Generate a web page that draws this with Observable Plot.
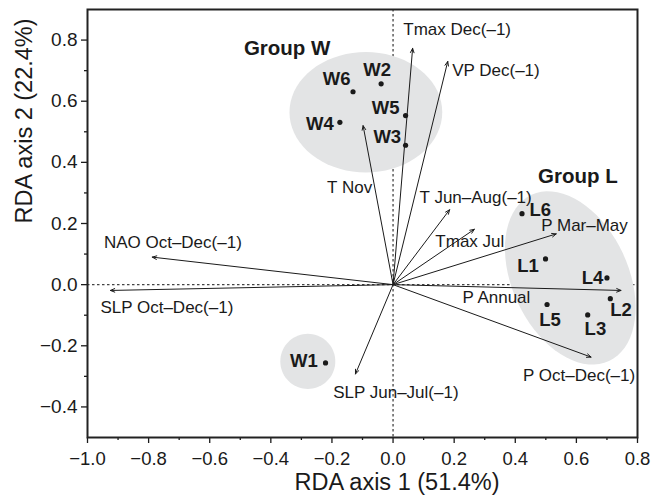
<!DOCTYPE html>
<html><head><meta charset="utf-8">
<script src="https://cdn.jsdelivr.net/npm/d3@7"></script>
<script src="https://cdn.jsdelivr.net/npm/@observablehq/plot@0.6"></script>
<style>html,body{margin:0;padding:0;background:#fff;}</style>
</head><body><div id="chart"></div>
<script>
// ---- data ----
const siteNames = ["W1","W2","W3","W4","W5","W6","L1","L2","L3","L4","L5","L6"];
const siteX = [-0.221,-0.039,0.041,-0.174,0.041,-0.131,0.499,0.711,0.637,0.700,0.504,0.422];
const siteY = [-0.256,0.657,0.456,0.531,0.553,0.631,0.084,-0.046,-0.099,0.022,-0.065,0.232];

const varNames = ["Tmax Dec(–1)","VP Dec(–1)","T Nov","T Jun–Aug(–1)","Tmax Jul","P Mar–May","P Annual","P Oct–Dec(–1)","SLP Jun–Jul(–1)","NAO Oct–Dec(–1)","SLP Oct–Dec(–1)"];
const varX = [0.064,0.179,-0.098,0.185,0.266,0.534,0.746,0.648,-0.123,-0.788,-0.925];
const varY = [0.773,0.730,0.520,0.245,0.181,0.166,-0.019,-0.237,-0.292,0.090,-0.019];

const groupNames = ["Group W","Group L",""];
const groupCX = [-0.089, 0.580, -0.279];
const groupCY = [0.564, 0.022, -0.251];
const groupRX = [0.25, 0.30, 0.09];
const groupRY = [0.197, 0.19, 0.09];
const groupAngle = [0, -65, 0];

const xTicks = [-1.0,-0.8,-0.6,-0.4,-0.2,0,0.2,0.4,0.6,0.8];
const xMinor = [-0.9,-0.7,-0.5,-0.3,-0.1,0.1,0.3,0.5,0.7];
const yTicks = [-0.4,-0.2,0,0.2,0.4,0.6,0.8];
const yMinor = [-0.3,-0.1,0.1,0.3,0.5,0.7];
const xTitle = "RDA axis 1 (51.4%)";
const yTitle = "RDA axis 2 (22.4%)";

// ---- label placement (pixel offsets, styling only) ----
const siteLabelOffset = {W1:[-21.7,-1.6], W2:[-3.9,-14.1], W3:[-18.3,-8.4], W4:[-20,1.6], W5:[-20,-7.5], W6:[-16.4,-12.5],
  L1:[-17.5,7.5], L2:[10.8,11.7], L3:[7.7,14], L4:[-14.5,0], L5:[3,15.5], L6:[18.3,-4]};
const varLabelOffset = [[-9.3,-18.4],[4.4,9],[-36,61.7],[-30,-12.6],[-39,12.1],[-15,-8.3],[-158.4,7.5],[-68,18.3],[-22.3,18.4],[-48.4,-15],[-10,16.7]];
const groupLabelOffset = [[-78.7,-63.4],[7.7,-101.4]];

// ---- build tables ----
const sites = siteNames.map((n,i)=>({name:n, x:siteX[i], y:siteY[i]}));
const vars = varNames.map((n,i)=>({name:n, x:varX[i], y:varY[i]}));
const ellipsePts = [];
groupCX.forEach((cx,g)=>{
  const a = groupAngle[g]*Math.PI/180;
  for (let t=0;t<=72;t++){
    const th = t*5*Math.PI/180;
    const px = groupRX[g]*Math.cos(th), py = groupRY[g]*Math.sin(th);
    ellipsePts.push({g, x: cx + px*Math.cos(a) - py*Math.sin(a), y: groupCY[g] + px*Math.sin(a) + py*Math.cos(a)});
  }
});

const ink = "#1a1a1a";
const font = "'Liberation Sans', Arial, Helvetica, sans-serif";
const fmt = d3.format(".1f");

const marks = [
  Plot.ruleX([0], {stroke:"#444", strokeWidth:1.3, strokeDasharray:"2.5,2.5"}),
  Plot.ruleY([0], {stroke:"#444", strokeWidth:1.3, strokeDasharray:"2.5,2.5"}),
  Plot.line(ellipsePts, {x:"x", y:"y", z:"g", fill:"#e3e4e5", stroke:"none", curve:"linear-closed"}),
  Plot.arrow(vars, {x1:()=>0, y1:()=>0, x2:"x", y2:"y", stroke:ink, strokeWidth:1, headLength:7, headAngle:45}),
  Plot.dot(sites, {x:"x", y:"y", r:2.6, fill:ink, stroke:"none"}),
  ...sites.map(s => Plot.text([s], {x:"x", y:"y", text:"name", dx:siteLabelOffset[s.name][0], dy:siteLabelOffset[s.name][1], fontSize:18.5, fontWeight:"bold", fill:ink, textAnchor:"middle"})),
  ...vars.map((v,i) => Plot.text([v], {x:"x", y:"y", text:"name", dx:varLabelOffset[i][0], dy:varLabelOffset[i][1], fontSize:17, fill:ink, textAnchor:"start"})),
  ...[0,1].map(g => Plot.text([{x:groupCX[g], y:groupCY[g], name:groupNames[g]}], {x:"x", y:"y", text:"name", dx:groupLabelOffset[g][0], dy:groupLabelOffset[g][1], fontSize:20.5, fontWeight:"bold", fill:ink, textAnchor:"middle"})),
  Plot.axisX(xTicks, {tickSize:6, tickPadding:8, tickFormat:fmt, fontSize:18.5, stroke:ink, fill:ink, strokeWidth:1.3, label:null}),
  Plot.axisX(xMinor, {tickSize:3, tickFormat:()=>"", stroke:ink, strokeWidth:1.3, label:null}),
  Plot.axisY(yTicks, {tickSize:6, tickPadding:4, tickFormat:fmt, fontSize:19, stroke:ink, fill:ink, strokeWidth:1.3, label:null}),
  Plot.axisY(yMinor, {tickSize:3, tickFormat:()=>"", stroke:ink, strokeWidth:1.3, label:null}),
  Plot.text([xTitle], {frameAnchor:"bottom", dx:34.5, dy:52.5, fontSize:23.5, fill:ink}),
  Plot.text([yTitle], {frameAnchor:"left", rotate:-90, dx:-63.5, fontSize:23.5, fill:ink}),
  Plot.frame({stroke:"#222", strokeWidth:2})
];

const chart = Plot.plot({
  width:664, height:503,
  marginLeft:87, marginRight:27, marginTop:9, marginBottom:66,
  x:{domain:[-1.0,0.8]},
  y:{domain:[-0.5,0.9]},
  style:{fontFamily:font, background:"#fff", color:ink},
  marks
});
document.getElementById("chart").appendChild(chart);
</script>
</body></html>
